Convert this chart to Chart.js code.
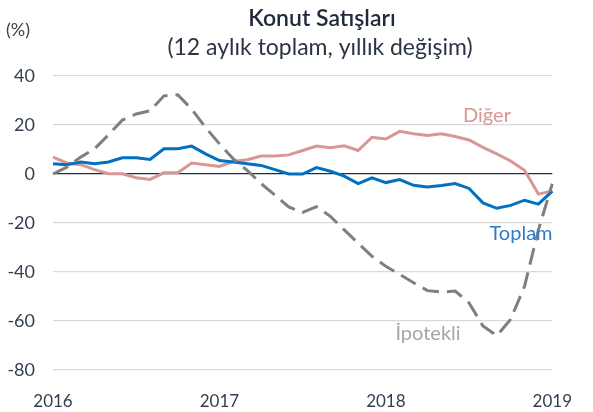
<!DOCTYPE html>
<html>
<head>
<meta charset="utf-8">
<script src="https://cdn.jsdelivr.net/npm/chart.js@4.4.0/dist/chart.umd.min.js"></script>
<style>
html,body{margin:0;padding:0;background:#fff;}
#wrap{width:593px;height:412px;}
</style>
</head>
<body>
<div id="wrap"><canvas id="c" width="593" height="412"></canvas></div>
<script>
const months = ['2016-01','2016-02','2016-03','2016-04','2016-05','2016-06','2016-07','2016-08','2016-09','2016-10','2016-11','2016-12',
'2017-01','2017-02','2017-03','2017-04','2017-05','2017-06','2017-07','2017-08','2017-09','2017-10','2017-11','2017-12',
'2018-01','2018-02','2018-03','2018-04','2018-05','2018-06','2018-07','2018-08','2018-09','2018-10','2018-11','2018-12',
'2019-01'];
const yearTicks = ['2016','2017','2018','2019'];
const toplam = [4.2,3.8,4.9,4.2,4.9,6.6,6.6,5.9,10.3,10.3,11.4,8.2,5.5,4.9,4.2,3.5,1.8,0,0,2.6,1.1,-0.9,-3.9,-1.6,-3.5,-2.3,-4.6,-5.3,-4.7,-3.9,-5.9,-11.8,-14,-12.8,-10.7,-12.3,-7];
const diger = [6.9,4.5,3.8,1.8,0.1,0.1,-1.5,-2.2,0.5,0.5,4.5,3.8,3.1,5.1,5.8,7.3,7.3,7.8,9.6,11.4,10.7,11.5,9.6,15,14.3,17.4,16.4,15.7,16.4,15.3,13.9,10.9,8.2,5.3,1.5,-8.2,-6.9];
const ipotekli = [0,2.8,6.9,10.3,16,22,24.5,25.8,31.9,32.3,26.5,19,12.3,6.2,1.5,-3.9,-8.6,-13.4,-15.7,-13.3,-17.3,-22.8,-28.2,-33.6,-37.7,-41,-44.4,-47.6,-48.2,-47.8,-52.6,-62,-66,-59.3,-45.8,-22.8,-4];
const yTicks = [40,20,0,-20,-40,-60,-80];

const FONT = 'Lato, Carlito, "Open Sans", sans-serif';

const textPlugin = {
  id: 'texts',
  afterDraw(chart) {
    const ctx = chart.ctx;
    ctx.save();
    ctx.textBaseline = 'middle';
    ctx.textAlign = 'center';
    ctx.fillStyle = '#1F2A3C';
    ctx.font = '600 23px ' + FONT;
    ctx.fillText('Konut Satışları', 322, 19);
    ctx.font = '23px ' + FONT;
    ctx.fillStyle = '#2B3445';
    ctx.fillText('(12 aylık toplam, yıllık değişim)', 320, 48);
    ctx.textAlign = 'left';
    ctx.font = '18px ' + FONT;
    ctx.fillStyle = '#404040';
    ctx.fillText('(%)', 6, 30);
    ctx.textAlign = 'center';
    ctx.font = '20px ' + FONT;
    ctx.fillStyle = '#D99694';
    ctx.fillText('Diğer', 487, 116);
    ctx.fillStyle = '#2E7CC4';
    ctx.fillText('Toplam', 521, 234);
    ctx.fillStyle = '#A6A6A6';
    ctx.fillText('İpotekli', 428, 334);
    ctx.restore();
  }
};

new Chart(document.getElementById('c'), {
  type: 'line',
  data: {
    labels: months,
    datasets: [
      {label:'İpotekli', data: ipotekli, borderColor:'#7F7F7F', borderWidth:3, borderDash:[17,8], pointRadius:0, tension:0, fill:false},
      {label:'Toplam', data: toplam, borderColor:'#0070C0', borderWidth:3, pointRadius:0, tension:0, fill:false},
      {label:'Diğer', data: diger, borderColor:'#D99694', borderWidth:3, pointRadius:0, tension:0, fill:false}
    ]
  },
  options: {
    responsive: false,
    devicePixelRatio: 1,
    animation: false,
    layout: { padding: { top: 76, right: 22, left: 0, bottom: 0 } },
    plugins: { legend: { display:false }, tooltip: { enabled:false }, title:{display:false} },
    scales: {
      x: {
        type: 'category',
        offset: false,
        grid: { display:false, drawTicks:false },
        border: { display:false },
        ticks: {
          autoSkip: false, maxRotation: 0, padding: 21,
          color: '#333F50',
          font: { family: FONT, size: 17 },
          callback: function(v, i) {
            const m = months[i];
            if (m.endsWith('-01')) { return yearTicks[yearTicks.indexOf(m.slice(0,4))]; }
            return null;
          }
        },
        afterFit: s => { s.height = 42; }
      },
      y: {
        min: -80, max: 40,
        grid: {
          drawTicks:false,
          color: c => c.tick && c.tick.value === 0 ? '#1F2D4D' : '#D9D9D9',
          lineWidth: 1.3
        },
        border: { display:false },
        afterBuildTicks: s => { s.ticks = yTicks.map(v => ({value:v})); },
        ticks: {
          padding: 18,
          color: '#333F50',
          font: { family: FONT, size: 18 }
        },
        afterFit: s => { s.width = 53; }
      }
    }
  },
  plugins: [textPlugin]
});
</script>
</body>
</html>
